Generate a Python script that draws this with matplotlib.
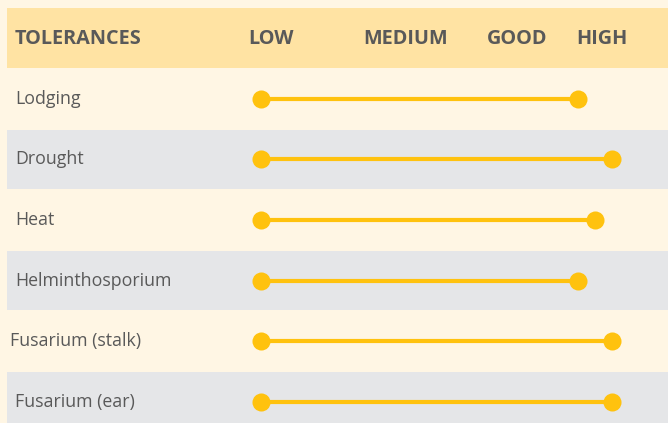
import matplotlib.pyplot as plt
from matplotlib.patches import Rectangle

plt.rcParams['font.family'] = ['Open Sans', 'DejaVu Sans']

traits = ["Lodging", "Drought", "Heat", "Helminthosporium",
          "Fusarium (stalk)", "Fusarium (ear)"]
low_score = [1, 1, 1, 1, 1, 1]
high_score = [4.61, 5.0, 4.81, 4.61, 5.0, 5.0]
scale_labels = ["LOW", "MEDIUM", "GOOD", "HIGH"]
scale_pos = [1.11, 2.65, 3.92, 4.89]

bg = "#FFF6E4"
header_bg = "#FFE3A3"
grey = "#E5E6E8"
gold = "#FFC20E"
txt = "#595959"

fig = plt.figure(figsize=(6.68, 4.23), dpi=100, facecolor=bg)
ax = fig.add_axes([0, 0, 1, 1])
ax.set_facecolor(bg)

# pixel -> score: LOW dot at x=261 px, HIGH dot at x=612 px
px_per = (612 - 261) / 4.0
ax.set_xlim(1 - 261 / px_per, 1 + (668 - 261) / px_per)
ax.set_ylim(5.355, -1.636)
ax.axis("off")

x_left = 1 - (261 - 7) / px_per
x_right = 1 + (668 - 261) / px_per

ax.add_patch(Rectangle((x_left, -1.505), x_right - x_left, 0.99,
                       facecolor=header_bg, edgecolor="none", zorder=0))
for i in range(len(traits)):
    if i % 2 == 1:
        ax.add_patch(Rectangle((x_left, i - 0.49), x_right - x_left, 0.98,
                               facecolor=grey, edgecolor="none", zorder=0))

label_x = 1 - (261 - 15) / px_per
ax.text(label_x, -0.99, "TOLERANCES", fontsize=14.3, fontweight="bold",
        color=txt, va="center", ha="left")
for lab, p in zip(scale_labels, scale_pos):
    ax.text(p, -0.99, lab, fontsize=14.3, fontweight="bold", color=txt,
            va="center", ha="center")

for i, t in enumerate(traits):
    lx = label_x - (5 / px_per if t == "Fusarium (stalk)" else 0)
    ax.text(lx, i, t, fontsize=12.8, color=txt, va="center", ha="left")
    ax.plot([low_score[i], high_score[i]], [i, i], color=gold, lw=3,
            solid_capstyle="butt", zorder=2)
    ax.plot([low_score[i], high_score[i]], [i, i], "o", color=gold,
            markersize=13, markeredgewidth=0, zorder=3)

fig.savefig("out.png", dpi=100, facecolor=bg)
